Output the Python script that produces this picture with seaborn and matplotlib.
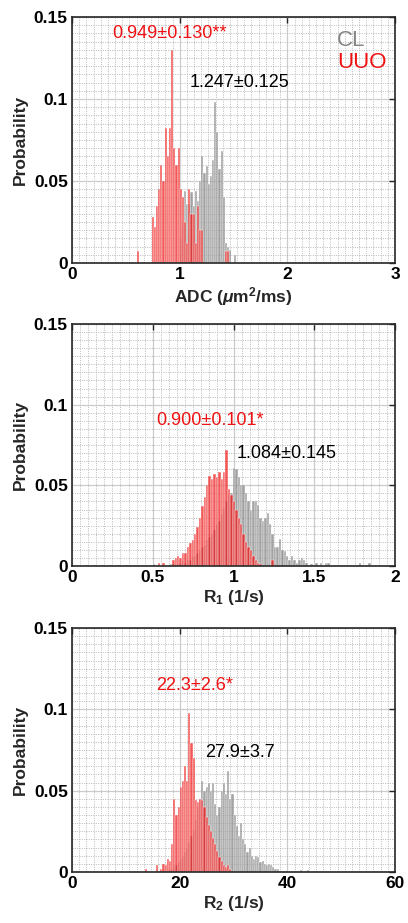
import matplotlib
matplotlib.use('Agg')
import matplotlib.pyplot as plt
import numpy as np
import pandas as pd
import seaborn as sns
from matplotlib.ticker import MultipleLocator, FuncFormatter

# ---- data (bin start, bin width, probability per bin) ----
# ADC (um^2/ms)
adc_width = 0.02
adc_uuo_start = 0.60
adc_uuo = [0.007, 0, 0, 0, 0, 0, 0, 0.028, 0.022, 0.035, 0.045, 0.060, 0.050,
           0.082, 0.065, 0.082, 0.130, 0.070, 0.060, 0.070, 0.045, 0.040, 0.025,
           0.012, 0.045, 0.030, 0.030, 0.012, 0.035, 0.020, 0.020, 0, 0, 0, 0,
           0, 0, 0, 0, 0, 0, 0.007, 0.007]
adc_cl_start = 1.00
adc_cl = [0.015, 0.025, 0.044, 0.036, 0.036, 0.043, 0.035, 0.044, 0.038, 0.050,
          0.065, 0.055, 0.059, 0.048, 0.053, 0.063, 0.098, 0.080, 0.057, 0.068,
          0.040, 0.012, 0.010, 0.008, 0, 0.005]

# R1 (1/s)
r1_width = 0.015
r1_uuo_start = 0.50
r1_uuo = [0, 0, 0.002, 0, 0.002, 0, 0, 0, 0.004, 0.005, 0.006, 0.005, 0.008,
          0.008, 0.012, 0.014, 0.016, 0.020, 0.024, 0.030, 0.037, 0.043, 0.050,
          0.056, 0.054, 0.057, 0.055, 0.058, 0.054, 0.058, 0.072, 0.048, 0.044,
          0.040, 0.035, 0.030, 0.026, 0.020, 0.015, 0.012, 0.010, 0.006, 0.004,
          0.002, 0.001, 0, 0, 0, 0, 0.004]
r1_cl_start = 0.50
r1_cl = [0.001, 0, 0, 0, 0, 0, 0, 0.001, 0.001, 0, 0.002, 0.001, 0.003, 0.002,
         0.004, 0.004, 0.006, 0.006, 0.008, 0.010, 0.012, 0.013, 0.016, 0.018,
         0.020, 0.022, 0.026, 0.028, 0.032, 0.036, 0.040, 0.044, 0.045, 0.061,
         0.060, 0.055, 0.050, 0.050, 0.045, 0.040, 0.035, 0.040, 0.040, 0.038,
         0.030, 0.028, 0.030, 0.033, 0.026, 0.020, 0.012, 0.012, 0.017, 0.010,
         0.009, 0.006, 0.004, 0.006, 0.004, 0.002, 0.004, 0.005, 0.004, 0.002,
         0, 0.001, 0, 0.002, 0, 0.002, 0, 0.002, 0.002, 0, 0, 0, 0, 0, 0, 0,
         0, 0, 0, 0, 0, 0.002, 0, 0, 0, 0.002]

# R2 (1/s)
r2_width = 0.4
r2_uuo_start = 13.6
r2_uuo = [0.002, 0, 0, 0, 0, 0.004, 0, 0.002, 0.005, 0.004, 0.008, 0.007,
          0.017, 0.045, 0.035, 0.040, 0.052, 0.056, 0.065, 0.056, 0.098, 0.079,
          0.070, 0.044, 0.043, 0.045, 0.044, 0.040, 0.034, 0.029, 0.025, 0.021,
          0.017, 0.013, 0.009, 0.007, 0.004, 0.003, 0.004, 0.002]
r2_cl_start = 18.0
r2_cl = [0.002, 0.002, 0.004, 0.004, 0.006, 0.008, 0.010, 0.012, 0.015, 0.018,
         0.022, 0.026, 0.032, 0.040, 0.045, 0.056, 0.050, 0.052, 0.055, 0.050,
         0.055, 0.042, 0.035, 0.040, 0.050, 0.055, 0.048, 0.062, 0.045, 0.048,
         0.035, 0.028, 0.022, 0.030, 0.020, 0.017, 0.012, 0.015, 0.010, 0.008,
         0.010, 0.009, 0.006, 0.007, 0.005, 0.004, 0.005, 0.004, 0.003, 0.002,
         0.002, 0, 0, 0, 0, 0, 0, 0, 0, 0, 0, 0.001, 0, 0, 0.001]

# annotations: (text, x, y)
adc_notes = [('0.949±0.130**', 0.37, 0.140), ('1.247±0.125', 1.096, 0.110)]
r1_notes = [('0.900±0.101*', 0.522, 0.090), ('1.084±0.145', 1.02, 0.0695)]
r2_notes = [('22.3±2.6*', 15.67, 0.1144), ('27.9±3.7', 24.8, 0.0737)]

RED = '#f01212'
GREY = '#666666'

sns.set_theme(style='white')
plt.rcParams['font.family'] = ['Liberation Sans', 'DejaVu Sans']
plt.rcParams['mathtext.fontset'] = 'custom'
plt.rcParams['mathtext.rm'] = 'Liberation Sans:bold'
plt.rcParams['mathtext.it'] = 'Liberation Sans:italic:bold'
plt.rcParams['mathtext.bf'] = 'Liberation Sans:bold'


def draw_hist(ax, start, width, heights, color, alpha):
    n = len(heights)
    centers = start + width * (np.arange(n) + 0.5)
    df = pd.DataFrame({'x': centers, 'w': np.asarray(heights, dtype=float)})
    sns.histplot(data=df, x='x', weights='w', binwidth=width,
                 binrange=(start, start + width * n), color=color,
                 alpha=alpha, edgecolor='white', linewidth=0.3, ax=ax)


def style_axes(ax, xmax, xmajor, xminor, xlabel):
    ax.set_xlim(0, xmax)
    ax.set_ylim(0, 0.15)
    ax.xaxis.set_major_locator(MultipleLocator(xmajor))
    ax.xaxis.set_minor_locator(MultipleLocator(xminor))
    ax.yaxis.set_major_locator(MultipleLocator(0.05))
    ax.yaxis.set_minor_locator(MultipleLocator(0.005))
    fmt = FuncFormatter(lambda v, p: '%g' % round(v, 4))
    ax.xaxis.set_major_formatter(fmt)
    ax.yaxis.set_major_formatter(fmt)
    ax.set_axisbelow(True)
    ax.grid(which='major', color='#cccccc', lw=0.9, ls='-')
    ax.grid(which='minor', color='#b0b0b0', lw=0.6, ls=(0, (1.2, 1.6)))
    ax.tick_params(which='major', direction='in', top=True, right=True,
                   length=4, width=1, labelsize=12.5, pad=3, colors='#262626')
    ax.tick_params(which='minor', length=0)
    for lab in ax.get_xticklabels() + ax.get_yticklabels():
        lab.set_fontweight('bold')
        lab.set_color('black')
    for sp in ax.spines.values():
        sp.set_color('#262626')
        sp.set_linewidth(1.2)
    ax.set_xlabel(xlabel, fontsize=12.5, fontweight='bold', labelpad=2)
    ax.set_ylabel('Probability', fontsize=12.5, fontweight='bold', labelpad=4)


def add_notes(ax, notes):
    (t1, x1, y1), (t2, x2, y2) = notes
    ax.text(x1, y1, t1, color=RED, fontsize=13, ha='left', va='center')
    ax.text(x2, y2, t2, color='black', fontsize=13, ha='left', va='center')


fig = plt.figure(figsize=(4.08, 9.23), dpi=100)
ax1 = fig.add_axes([0.1765, 0.7151, 0.7917, 0.2665])
ax2 = fig.add_axes([0.1765, 0.3868, 0.7917, 0.2622])
ax3 = fig.add_axes([0.1765, 0.0553, 0.7917, 0.2643])

# ADC
draw_hist(ax1, adc_cl_start, adc_width, adc_cl, GREY, 0.6)
draw_hist(ax1, adc_uuo_start, adc_width, adc_uuo, RED, 0.7)
style_axes(ax1, 3, 1, 1 / 15, r'ADC ($\mu$m$^2$/ms)')
add_notes(ax1, adc_notes)
ax1.text(2.72, 0.1355, 'CL', color='#858585', fontsize=16, ha='right', va='center')
ax1.text(2.92, 0.1225, 'UUO', color=RED, fontsize=16, ha='right', va='center')

# R1
draw_hist(ax2, r1_cl_start, r1_width, r1_cl, GREY, 0.6)
draw_hist(ax2, r1_uuo_start, r1_width, r1_uuo, RED, 0.7)
style_axes(ax2, 2, 0.5, 0.05, r'R$_1$ (1/s)')
add_notes(ax2, r1_notes)

# R2
draw_hist(ax3, r2_cl_start, r2_width, r2_cl, GREY, 0.6)
draw_hist(ax3, r2_uuo_start, r2_width, r2_uuo, RED, 0.7)
style_axes(ax3, 60, 20, 20 / 15, r'R$_2$ (1/s)')
add_notes(ax3, r2_notes)

fig.savefig('out.png', dpi=100)
